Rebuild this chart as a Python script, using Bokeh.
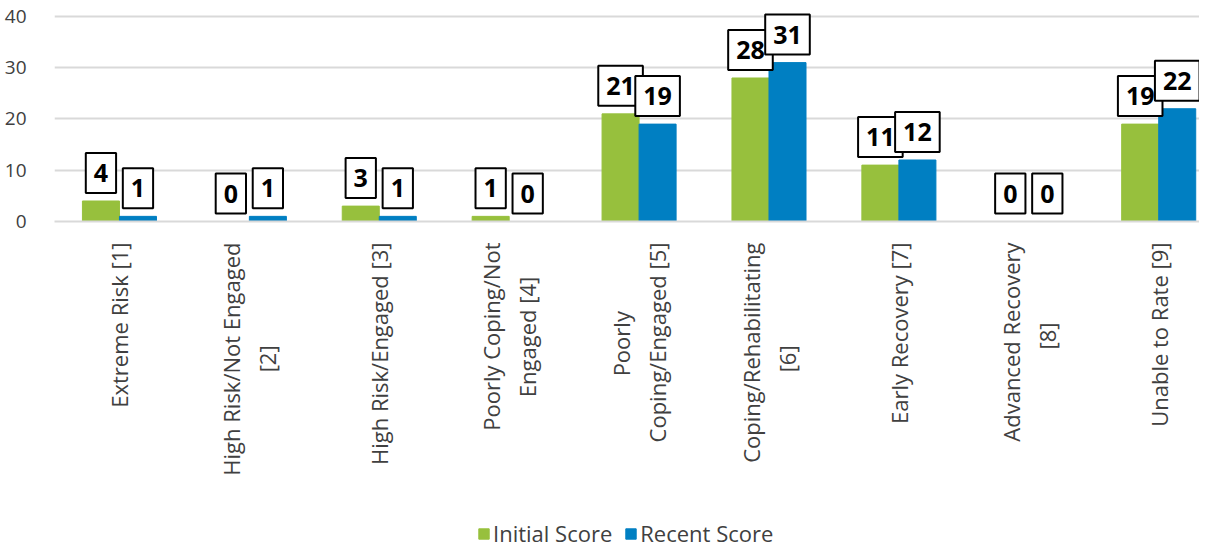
from bokeh.plotting import figure
from bokeh.models import ColumnDataSource, Label, Legend, LegendItem, FixedTicker, Range1d
from bokeh.layouts import column
from bokeh.embed import file_html
from bokeh.resources import INLINE

categories = ["Extreme Risk [1]", "High Risk/Not Engaged\n[2]", "High Risk/Engaged [3]",
              "Poorly Coping/Not\nEngaged [4]", "Poorly\nCoping/Engaged [5]",
              "Coping/Rehabilitating\n[6]", "Early Recovery [7]", "Advanced Recovery\n[8]",
              "Unable to Rate [9]"]
initial_score = [4, 0, 3, 1, 21, 28, 11, 0, 19]
recent_score = [1, 1, 1, 0, 19, 31, 12, 0, 22]
y_ticks = [0, 10, 20, 30, 40]

GREEN = "#97C03D"
BLUE = "#007FC2"
FONT = "Open Sans"
TXT = "#404040"


def centered_lines(label):
    # pad shorter lines with no-break spaces so the lines look centred
    lines = label.split("\n")
    m = max(len(s) for s in lines)
    return "\n".join(s + "\u00a0" * (m - len(s)) for s in lines)


n = len(categories)
xs = list(range(n))
bw = 0.285
src = ColumnDataSource(dict(
    xg=[x - bw / 2 for x in xs],
    xb=[x + bw / 2 for x in xs],
    initial=initial_score,
    recent=recent_score,
))

# main chart; frame reaches a little above 40 so the top label boxes are not clipped
p = figure(frame_width=1145, frame_height=215, output_backend="svg", toolbar_location=None,
           x_range=Range1d(-0.5, 8.314), y_range=Range1d(0, 41.95),
           min_border_left=54, min_border_top=6, min_border_right=0, min_border_bottom=297)
p.outline_line_color = None

p.vbar(x="xg", top="initial", width=bw, source=src, color=GREEN)
p.vbar(x="xb", top="recent", width=bw, source=src, color=BLUE)

p.yaxis.ticker = FixedTicker(ticks=y_ticks)
p.yaxis.axis_line_color = None
p.yaxis.major_tick_line_color = None
p.yaxis.minor_tick_line_color = None
p.yaxis.major_label_text_font = FONT
p.yaxis.major_label_text_font_size = "19px"
p.yaxis.major_label_text_color = TXT
p.yaxis.major_label_standoff = 22

p.xaxis.ticker = FixedTicker(ticks=xs)
p.xaxis.major_label_overrides = {i: centered_lines(c) for i, c in enumerate(categories)}
p.xaxis.major_label_orientation = 1.5708
p.xaxis.axis_line_color = "#D9D9D9"
p.xaxis.axis_line_width = 2
p.xaxis.major_tick_line_color = None
p.xaxis.minor_tick_line_color = None
p.xaxis.major_label_text_font = FONT
p.xaxis.major_label_text_font_size = "22px"
p.xaxis.major_label_text_color = TXT
p.xaxis.major_label_standoff = 15

p.xgrid.grid_line_color = None
p.ygrid.grid_line_color = "#D9D9D9"
p.ygrid.grid_line_width = 2

for i in range(n):
    for xv, val in ((xs[i] - bw / 2, initial_score[i]), (xs[i] + bw / 2, recent_score[i])):
        p.add_layout(Label(x=xv, y=val, text=str(val), text_align="center", text_baseline="bottom",
                           y_offset=8, text_font=FONT, text_font_style="bold",
                           text_font_size="25px", text_color="black",
                           background_fill_color="white", border_line_color="black",
                           border_line_width=2,
                           padding=dict(left=8, right=8, top=11, bottom=11)))

# legend strip under the chart (its bars lie outside its ranges, only the legend shows)
lg = figure(width=1199, height=30, output_backend="svg", toolbar_location=None,
            x_range=Range1d(100, 101), y_range=Range1d(100, 101),
            x_axis_location=None, y_axis_location=None, min_border=0)
lg.outline_line_color = None
lg.grid.visible = False
lg_g = lg.vbar(x="xg", top="initial", width=bw, source=src, color=GREEN)
lg_b = lg.vbar(x="xb", top="recent", width=bw, source=src, color=BLUE)
legend = Legend(items=[LegendItem(label="Initial Score", renderers=[lg_g]),
                       LegendItem(label="Recent Score", renderers=[lg_b])],
                orientation="horizontal", location=(423, 0),
                label_text_font=FONT, label_text_font_size="22px", label_text_color=TXT,
                glyph_width=13, glyph_height=13, spacing=12, label_standoff=3,
                padding=0, margin=0, border_line_color=None, background_fill_alpha=0)
lg.add_layout(legend, "center")

layout = column(p, lg, spacing=0)
open("out.html", "w").write(file_html(layout, INLINE))
